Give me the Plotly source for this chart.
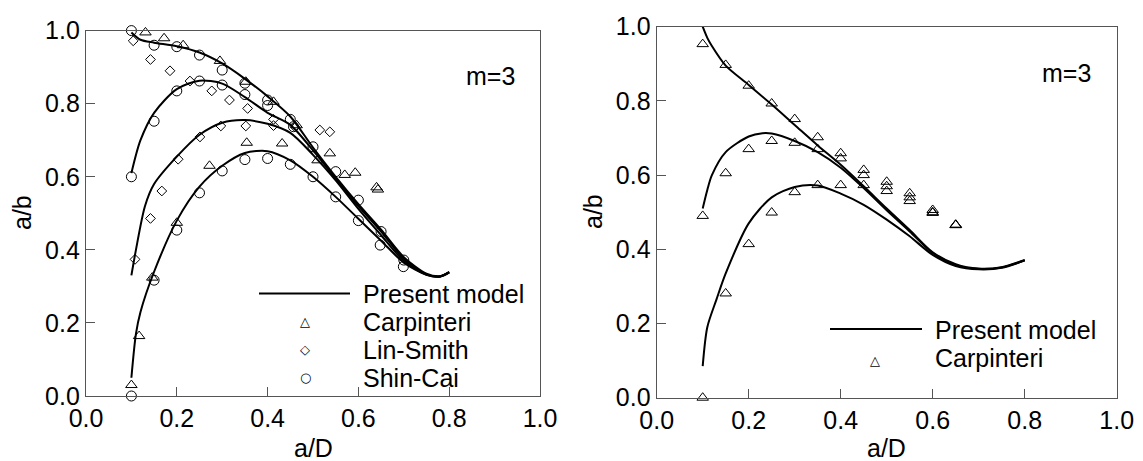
import plotly.graph_objects as go

W, H = 1143, 461
FONT = "Liberation Sans, Arial, sans-serif"

# ---------------- Left panel (m=3) ----------------
# Present model curves
L1_x = [0.1, 0.12, 0.15, 0.2, 0.25, 0.3, 0.35, 0.4, 0.45, 0.5, 0.55, 0.6, 0.65, 0.7, 0.75, 0.78, 0.8]
L1_y = [0.995, 0.975, 0.967, 0.957, 0.94, 0.91, 0.868, 0.82, 0.765, 0.68, 0.6, 0.525, 0.455, 0.38, 0.335, 0.328, 0.34]
L2_x = [0.1, 0.12, 0.15, 0.2, 0.25, 0.3, 0.35, 0.4, 0.45, 0.5, 0.55, 0.6, 0.65, 0.7, 0.75, 0.78, 0.8]
L2_y = [0.61, 0.70, 0.775, 0.84, 0.863, 0.855, 0.818, 0.775, 0.742, 0.672, 0.595, 0.52, 0.45, 0.375, 0.333, 0.327, 0.338]
L3_x = [0.1, 0.11, 0.13, 0.15, 0.2, 0.25, 0.3, 0.35, 0.4, 0.45, 0.5, 0.55, 0.6, 0.65, 0.7, 0.75, 0.78, 0.8]
L3_y = [0.33, 0.40, 0.52, 0.58, 0.655, 0.715, 0.748, 0.755, 0.745, 0.72, 0.66, 0.59, 0.512, 0.44, 0.37, 0.332, 0.327, 0.338]
L4_x = [0.1, 0.11, 0.12, 0.15, 0.2, 0.25, 0.3, 0.35, 0.4, 0.45, 0.5, 0.55, 0.6, 0.65, 0.7, 0.75, 0.78, 0.8]
L4_y = [0.05, 0.17, 0.23, 0.34, 0.48, 0.573, 0.63, 0.665, 0.67, 0.645, 0.60, 0.545, 0.485, 0.425, 0.365, 0.332, 0.327, 0.338]

# Carpinteri (triangles)
L_carp_x = [0.1, 0.117, 0.146, 0.2, 0.272, 0.354, 0.432,
            0.131, 0.172, 0.214, 0.295, 0.352, 0.413, 0.464,
            0.51, 0.537, 0.57, 0.593, 0.64, 0.643]
L_carp_y = [0.03, 0.164, 0.324, 0.474, 0.63, 0.693, 0.691,
            0.995, 0.979, 0.96, 0.917, 0.86, 0.805, 0.741,
            0.645, 0.664, 0.605, 0.611, 0.571, 0.565]
# Lin-Smith (diamonds)
L_lin_x = [0.104, 0.142, 0.185, 0.229, 0.277, 0.316, 0.356, 0.413, 0.413, 0.46, 0.515, 0.537,
           0.108, 0.142, 0.167, 0.203, 0.251, 0.297, 0.352]
L_lin_y = [0.972, 0.921, 0.89, 0.862, 0.835, 0.81, 0.787, 0.757, 0.74, 0.737, 0.728, 0.723,
           0.374, 0.486, 0.561, 0.648, 0.709, 0.739, 0.739]
# Shin-Cai (circles)
L_shin_x = [0.1, 0.15, 0.2, 0.25, 0.3, 0.35, 0.4, 0.45, 0.5, 0.55, 0.6, 0.65, 0.7,
            0.1, 0.15, 0.2, 0.25, 0.3, 0.35, 0.4, 0.457,
            0.1, 0.15, 0.2, 0.25, 0.3, 0.35, 0.4, 0.45, 0.5, 0.55, 0.6, 0.648, 0.699]
L_shin_y = [1.0, 0.96, 0.956, 0.933, 0.892, 0.856, 0.81, 0.757, 0.682, 0.614, 0.536, 0.45, 0.372,
            0.6, 0.752, 0.835, 0.862, 0.851, 0.825, 0.795, 0.737,
            0.0, 0.317, 0.454, 0.556, 0.616, 0.647, 0.65, 0.634, 0.60, 0.545, 0.48, 0.413, 0.354]

# ---------------- Right panel (m=3) ----------------
R1_x = [0.1, 0.11, 0.12, 0.15, 0.2, 0.25, 0.3, 0.35, 0.4, 0.45, 0.5, 0.55, 0.6, 0.65, 0.7, 0.75, 0.8]
R1_y = [1.0, 0.97, 0.948, 0.895, 0.843, 0.79, 0.735, 0.68, 0.628, 0.57, 0.51, 0.452, 0.392, 0.36, 0.348, 0.352, 0.371]
R2_x = [0.1, 0.11, 0.12, 0.15, 0.2, 0.23, 0.25, 0.3, 0.35, 0.4, 0.45, 0.5, 0.55, 0.6, 0.65, 0.7, 0.75, 0.8]
R2_y = [0.51, 0.56, 0.6, 0.662, 0.704, 0.713, 0.712, 0.692, 0.662, 0.62, 0.565, 0.505, 0.448, 0.39, 0.358, 0.347, 0.351, 0.37]
R3_x = [0.1, 0.11, 0.13, 0.15, 0.2, 0.25, 0.3, 0.35, 0.4, 0.45, 0.5, 0.55, 0.6, 0.65, 0.7, 0.75, 0.8]
R3_y = [0.085, 0.19, 0.265, 0.335, 0.47, 0.54, 0.568, 0.572, 0.55, 0.52, 0.48, 0.435, 0.385, 0.355, 0.346, 0.35, 0.37]

R_carp_x = [0.1, 0.15, 0.2, 0.25, 0.3, 0.35, 0.4, 0.45, 0.5, 0.55, 0.6, 0.65,
            0.1, 0.15, 0.2, 0.25, 0.3, 0.35, 0.4, 0.45, 0.5, 0.55, 0.6, 0.65,
            0.1, 0.15, 0.2, 0.25, 0.3, 0.35, 0.4, 0.45, 0.5, 0.55, 0.6, 0.65]
R_carp_y = [0.953, 0.897, 0.841, 0.793, 0.751, 0.702, 0.659, 0.614, 0.582, 0.551, 0.506, 0.466,
            0.49, 0.605, 0.67, 0.692, 0.687, 0.67, 0.645, 0.60, 0.57, 0.54, 0.50, 0.466,
            0.0, 0.281, 0.414, 0.499, 0.554, 0.573, 0.573, 0.573, 0.557, 0.53, 0.498, 0.465]

ticks = [0.0, 0.2, 0.4, 0.6, 0.8, 1.0]
tick_text = ["0.0", "0.2", "0.4", "0.6", "0.8", "1.0"]

fig = go.Figure()

line_style = dict(color="black", width=2, shape="spline", smoothing=0.8)
for xs, ys in [(L1_x, L1_y), (L2_x, L2_y), (L3_x, L3_y), (L4_x, L4_y)]:
    fig.add_trace(go.Scatter(x=xs, y=ys, mode="lines", line=line_style,
                             xaxis="x", yaxis="y", showlegend=False, hoverinfo="skip"))
for xs, ys in [(R1_x, R1_y), (R2_x, R2_y), (R3_x, R3_y)]:
    fig.add_trace(go.Scatter(x=xs, y=ys, mode="lines", line=line_style,
                             xaxis="x2", yaxis="y2", showlegend=False, hoverinfo="skip"))

def mk(symbol, size):
    return dict(symbol=symbol, size=size, color="black",
                line=dict(color="black", width=1))

fig.add_trace(go.Scatter(x=L_carp_x, y=L_carp_y, mode="markers", marker=mk("triangle-up-open", 10),
                         xaxis="x", yaxis="y", showlegend=False, cliponaxis=False))
fig.add_trace(go.Scatter(x=L_lin_x, y=L_lin_y, mode="markers", marker=mk("diamond-open", 7.5),
                         xaxis="x", yaxis="y", showlegend=False, cliponaxis=False))
fig.add_trace(go.Scatter(x=L_shin_x, y=L_shin_y, mode="markers", marker=mk("circle-open", 10),
                         xaxis="x", yaxis="y", showlegend=False, cliponaxis=False))
fig.add_trace(go.Scatter(x=R_carp_x, y=R_carp_y, mode="markers", marker=mk("triangle-up-open", 10),
                         xaxis="x2", yaxis="y2", showlegend=False, cliponaxis=False))

axis_common = dict(range=[0, 1], tickvals=ticks, ticktext=tick_text, ticks="inside", ticklen=9,
                   tickcolor="#555", tickwidth=1, showline=True, linecolor="#555", linewidth=1.3,
                   mirror=True, showgrid=False, zeroline=False, automargin=False,
                   tickfont=dict(family=FONT, size=25, color="black"))

fig.update_layout(
    width=W, height=H, margin=dict(l=0, r=0, t=0, b=0, autoexpand=False),
    paper_bgcolor="white", plot_bgcolor="white", showlegend=False,
    xaxis=dict(domain=[86 / W, 540 / W], anchor="y", **axis_common),
    yaxis=dict(domain=[1 - 396 / H, 1 - 30.6 / H], anchor="x", **axis_common),
    xaxis2=dict(domain=[656.7 / W, 1116.7 / W], anchor="y2", **axis_common),
    yaxis2=dict(domain=[1 - 397.7 / H, 1 - 26.7 / H], anchor="x2", **axis_common),
)

def px_x(p):
    return p / W

def px_y(p):
    return 1 - p / H

ann = []
def text(x, y, s, size=25, xanchor="center", textangle=0):
    ann.append(dict(x=px_x(x), y=px_y(y), xref="paper", yref="paper", text=s, showarrow=False,
                    xanchor=xanchor, yanchor="middle", textangle=textangle,
                    font=dict(family=FONT, size=size, color="black")))

# axis titles
text(22, 213, "a/b", textangle=-90)
text(313, 448, "a/D")
text(593, 212, "a/b", textangle=-90)
text(886, 448, "a/D")
# m=3 labels
text(490, 76, "m=3")
text(1066, 73, "m=3")
# left legend
text(361, 294, "Present model", xanchor="left")
text(361, 322, "Carpinteri", xanchor="left")
text(361, 350, "Lin-Smith", xanchor="left")
text(361, 378, "Shin-Cai", xanchor="left")
# right legend
text(933, 330, "Present model", xanchor="left")
text(933, 358, "Carpinteri", xanchor="left")

sym_font = "DejaVu Sans"
for (sx, sy, ch) in [(305, 321, "△"), (305, 349, "◇"), (305, 377, "○"), (875, 360, "△")]:
    ann.append(dict(x=px_x(sx), y=px_y(sy), xref="paper", yref="paper", text=ch, showarrow=False,
                    xanchor="center", yanchor="middle",
                    font=dict(family=sym_font, size=13, color="black")))

fig.update_layout(annotations=ann, shapes=[
    dict(type="line", xref="paper", yref="paper", x0=px_x(259), x1=px_x(350), y0=px_y(293.5), y1=px_y(293.5),
         line=dict(color="black", width=2)),
    dict(type="line", xref="paper", yref="paper", x0=px_x(830), x1=px_x(922), y0=px_y(329), y1=px_y(329),
         line=dict(color="black", width=2)),
])

fig.write_html("out.html")
